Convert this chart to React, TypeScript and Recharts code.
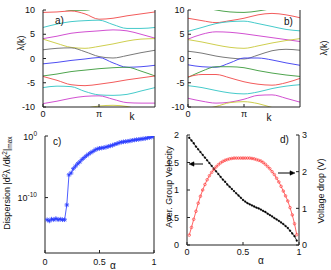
import { Line, LineChart, XAxis, YAxis } from 'recharts';

const FONT = '"Liberation Sans", Arial, Helvetica, sans-serif';

// k grid for panels a) and b), in units of pi
const K = [0, 0.25, 0.5, 0.75, 1, 1.25, 1.5, 1.75, 2];

// panel a) eigenvalue bands lambda(k)
const A_GREEN_TOP = [null, 10.6, 9.92, 9.95, 10.6, null, null, null, null];
const A_RED_TOP = [9.5, 9.6, 9.8, 9.2, 8.1, 8.3, 8.8, 9.2, 9.6];
const A_CYAN_TOP = [6.4, 7.1, 7.6, 7.8, 7.9, 7.0, 6.2, 6.2, 6.4];
const A_MAG_TOP = [4.1, 4.6, 5.2, 5.5, 5.7, 5.9, 5.7, 5.0, 4.2];
const A_YEL_TOP = [4.0, 3.1, 2.3, 2.1, 2.5, 3.0, 3.6, 4.0, 4.1];
const A_GRAY = [1.8, 2.1, 2.2, 1.4, 0.4, 0.1, 0.6, 1.2, 1.7];
const A_BLUE = [-1.1, -0.8, -0.4, -0.1, 0.2, -0.9, -1.8, -1.7, -1.4];
const A_GREEN = [-3.6, -3.2, -2.7, -2.4, -2.1, -1.9, -1.8, -2.6, -3.6];
const A_RED = [-3.7, -4.5, -5.4, -5.6, -5.3, -4.9, -4.4, -4.0, -3.6];
const A_CYAN = [-6.0, -5.7, -5.8, -6.8, -7.5, -7.6, -7.4, -6.7, -6.0];
const A_MAG = [-9.3, -8.8, -8.2, -7.8, -7.7, -8.4, -9.1, -9.2, -9.2];
const A_YEL = [null, null, -11, -10.3, -9.8, -9.65, -9.9, -10.6, null];

// panel b) eigenvalue bands lambda(k)
const B_GREEN_TOP = [null, 10.6, 10.0, 9.6, 9.5, 9.8, 10.3, null, null];
const B_RED_TOP = [8.3, 7.8, 7.4, 7.8, 8.3, 9.0, 9.3, 9.0, 8.4];
const B_CYAN_TOP = [5.6, 6.4, 7.2, 7.6, 7.7, 7.2, 6.6, 6.0, 5.7];
const B_MAG_TOP = [4.0, 5.0, 5.5, 5.4, 5.1, 4.7, 4.3, 3.9, 3.5];
const B_YEL_TOP = [3.9, 3.4, 2.8, 2.3, 2.1, 2.6, 3.2, 3.7, 4.1];
const B_GRAY = [1.5, 1.1, 0.5, 0.1, -0.1, 0.7, 1.6, 1.9, 1.7];
const B_BLUE = [-1.3, -1.7, -1.8, -0.9, 0.1, 0.1, -0.3, -0.9, -1.4];
const B_GREEN = [-3.9, -2.6, -1.7, -1.7, -1.9, -2.5, -3.0, -3.4, -3.7];
const B_RED = [-3.8, -3.3, -3.3, -4.0, -4.8, -5.3, -5.5, -5.0, -4.1];
const B_CYAN = [-5.6, -6.0, -6.6, -7.1, -7.3, -6.9, -6.2, -5.7, -5.4];
const B_MAG = [-8.2, -8.8, -9.2, -9.0, -8.4, -7.6, -7.5, -8.2, -9.0];
const B_YEL = [null, -10.6, -9.9, -9.1, -8.9, -9.3, -10.1, -10.8, null];

// panel c) dispersion, stored as log10 of |d2 lambda/dk2|max
const C_ALPHA = [
  0.02, 0.04, 0.06, 0.08, 0.1, 0.12, 0.14, 0.16, 0.18, 0.2, 0.22, 0.24, 0.26,
  0.28, 0.3, 0.32, 0.34, 0.36, 0.38, 0.4, 0.42, 0.44, 0.46, 0.48, 0.5, 0.52,
  0.54, 0.56, 0.58, 0.6, 0.62, 0.64, 0.66, 0.68, 0.7, 0.72, 0.74, 0.76, 0.78,
  0.8, 0.82, 0.84, 0.86, 0.88, 0.9, 0.92, 0.94, 0.96, 0.98, 1.0,
];
const C_LOG_DISP = [
  -13.6, -13.8, -13.5, -13.6, -13.4, -13.6, -13.5, -13.6, -13.6, -11.2, -6.3,
  -6.0, -5.3, -4.9, -4.5, -4.2, -3.8, -3.5, -3.2, -2.95, -2.7, -2.5, -2.25,
  -2.1, -2.0, -1.95, -1.9, -1.8, -1.7, -1.6, -1.5, -1.35, -1.25, -1.1, -1.0,
  -0.95, -0.9, -0.85, -0.8, -0.7, -0.65, -0.6, -0.55, -0.5, -0.45, -0.4, -0.3,
  -0.25, -0.15, -0.05,
];

// panel d) group velocity (left axis) and voltage drop (right axis)
const D_ALPHA = [
  0.02, 0.04, 0.06, 0.08, 0.1, 0.12, 0.14, 0.16, 0.18, 0.2, 0.22, 0.24, 0.26,
  0.28, 0.3, 0.32, 0.34, 0.36, 0.38, 0.4, 0.42, 0.44, 0.46, 0.48, 0.5, 0.52,
  0.54, 0.56, 0.58, 0.6, 0.62, 0.64, 0.66, 0.68, 0.7, 0.72, 0.74, 0.76, 0.78,
  0.8, 0.82, 0.84, 0.86, 0.88, 0.9, 0.92, 0.94, 0.96, 0.98,
];
const D_VELOCITY = [
  1.95, 1.9, 1.85, 1.79, 1.74, 1.69, 1.64, 1.59, 1.54, 1.49, 1.44, 1.39, 1.34,
  1.29, 1.24, 1.19, 1.15, 1.1, 1.06, 1.02, 0.98, 0.94, 0.9, 0.86, 0.82, 0.79,
  0.76, 0.74, 0.72, 0.7, 0.68, 0.665, 0.645, 0.62, 0.6, 0.57, 0.545, 0.52, 0.49,
  0.465, 0.44, 0.41, 0.38, 0.345, 0.31, 0.26, 0.21, 0.16, 0.08,
];
const D_VOLTAGE = [
  0.27, 0.48, 0.7, 0.92, 1.14, 1.33, 1.5, 1.65, 1.78, 1.89, 1.98, 2.06, 2.13,
  2.19, 2.24, 2.28, 2.31, 2.33, 2.35, 2.36, 2.37, 2.37, 2.37, 2.37, 2.37, 2.37,
  2.37, 2.37, 2.36, 2.35, 2.33, 2.31, 2.29, 2.25, 2.2, 2.14, 2.08, 2.0, 1.92,
  1.82, 1.72, 1.6, 1.47, 1.34, 1.2, 1.02, 0.82, 0.58, 0.28,
];

const COL = {
  r: '#f04848',
  c: '#30c4c4',
  m: '#cc3ccc',
  y: '#c8c83a',
  k: '#6a6a6a',
  b: '#3a3af0',
  g: '#3a9a3a',
};

type Band = [string, (number | null)[], string];

const A_SERIES: Band[] = [
  ['g1', A_GREEN_TOP, COL.g],
  ['r1', A_RED_TOP, COL.r],
  ['c1', A_CYAN_TOP, COL.c],
  ['m1', A_MAG_TOP, COL.m],
  ['y1', A_YEL_TOP, COL.y],
  ['k1', A_GRAY, COL.k],
  ['b1', A_BLUE, COL.b],
  ['g2', A_GREEN, COL.g],
  ['r2', A_RED, COL.r],
  ['c2', A_CYAN, COL.c],
  ['m2', A_MAG, COL.m],
  ['y2', A_YEL, COL.y],
];

const B_SERIES: Band[] = [
  ['g1', B_GREEN_TOP, COL.g],
  ['r1', B_RED_TOP, COL.r],
  ['c1', B_CYAN_TOP, COL.c],
  ['m1', B_MAG_TOP, COL.m],
  ['y1', B_YEL_TOP, COL.y],
  ['k1', B_GRAY, COL.k],
  ['b1', B_BLUE, COL.b],
  ['g2', B_GREEN, COL.g],
  ['r2', B_RED, COL.r],
  ['c2', B_CYAN, COL.c],
  ['m2', B_MAG, COL.m],
  ['y2', B_YEL, COL.y],
];

function bandRows(series: Band[]) {
  return K.map((k, i) => {
    const row: Record<string, number | null> = { k };
    for (const [key, vals] of series) row[key] = vals[i];
    return row;
  });
}

const cRows = C_ALPHA.map((a, i) => ({ a, v: Math.pow(10, C_LOG_DISP[i]) }));
const dRows = D_ALPHA.map((a, i) => ({ a, vel: D_VELOCITY[i], volt: D_VOLTAGE[i] }));

const AX = { stroke: '#222', strokeWidth: 1 };
const TICK = { fontSize: 9, fill: '#111', fontFamily: FONT };
const kFmt = (v: number) => (v === 0 ? '0' : v === 1 ? 'π' : '');

function BandChart({ series, left, yAxisWidth, rightWidth, tickMargin }: {
  series: Band[];
  left: number;
  yAxisWidth: number;
  rightWidth: number;
  tickMargin: number;
}) {
  const rows = bandRows(series);
  return (
    <div style={{ position: 'absolute', left, top: 0 }}>
      <LineChart
        width={yAxisWidth + 112 + rightWidth}
        height={125}
        data={rows}
        margin={{ top: 10, right: 0, bottom: 0, left: 0 }}
      >
        <XAxis
          dataKey="k"
          type="number"
          domain={[0, 2]}
          ticks={[0, 1]}
          tickFormatter={kFmt}
          allowDataOverflow
          height={18}
          tickSize={-3}
          tickMargin={7}
          axisLine={AX}
          tickLine={AX}
          tick={TICK}
        />
        <XAxis
          xAxisId="top"
          orientation="top"
          type="number"
          domain={[0, 2]}
          ticks={[0, 1]}
          allowDataOverflow
          height={0}
          tickSize={-3}
          tick={false}
          axisLine={AX}
          tickLine={AX}
        />
        <YAxis
          type="number"
          domain={[-10, 10]}
          ticks={[-10, -5, 0, 5, 10]}
          allowDataOverflow
          width={yAxisWidth}
          tickSize={-3}
          tickMargin={tickMargin}
          axisLine={AX}
          tickLine={AX}
          tick={TICK}
        />
        <YAxis
          yAxisId="box"
          orientation="right"
          type="number"
          domain={[-10, 10]}
          ticks={[-10, -5, 0, 5, 10]}
          allowDataOverflow
          width={rightWidth}
          tickSize={-3}
          tick={false}
          axisLine={AX}
          tickLine={AX}
        />
        {series.map(([key, , color]) => (
          <Line
            key={key}
            dataKey={key}
            type="monotone"
            stroke={color}
            strokeWidth={0.9}
            dot={false}
            isAnimationActive={false}
          />
        ))}
      </LineChart>
    </div>
  );
}

function PowTick(p: any) {
  const e = Math.round(Math.log10(p.payload.value));
  return (
    <text x={p.x} y={p.y} dy={3} textAnchor="end" fontSize={9} fill="#111" fontFamily={FONT}>
      10
      <tspan dy={-4} fontSize={6.5}>
        {e}
      </tspan>
    </text>
  );
}

function StarDot(p: any) {
  const { cx, cy, index } = p;
  if (cx == null || cy == null) return <g key={`s${index}`} />;
  const r = 2.3;
  const d = r * 0.7;
  return (
    <path
      key={`s${index}`}
      d={`M${cx - r},${cy}H${cx + r}M${cx},${cy - r}V${cy + r}M${cx - d},${cy - d}L${cx + d},${cy + d}M${cx - d},${cy + d}L${cx + d},${cy - d}`}
      stroke="#2a3cff"
      strokeWidth={0.8}
      fill="none"
    />
  );
}

function DispersionChart() {
  return (
    <div style={{ position: 'absolute', left: 0, top: 128 }}>
      <LineChart width={165} height={142} data={cRows} margin={{ top: 8, right: 0, bottom: 0, left: 0 }}>
        <XAxis
          dataKey="a"
          type="number"
          domain={[0, 1]}
          ticks={[0, 0.5, 1]}
          allowDataOverflow
          height={17}
          tickSize={-3}
          tickMargin={9}
          axisLine={AX}
          tickLine={AX}
          tick={TICK}
        />
        <XAxis
          xAxisId="top"
          orientation="top"
          type="number"
          domain={[0, 1]}
          ticks={[0, 0.5, 1]}
          allowDataOverflow
          height={0}
          tickSize={-3}
          tick={false}
          axisLine={AX}
          tickLine={AX}
        />
        <YAxis
          type="number"
          scale="log"
          domain={[1e-19, 1]}
          ticks={[1e-10, 1]}
          allowDataOverflow
          width={45}
          tickSize={-3}
          tickMargin={11}
          axisLine={AX}
          tickLine={AX}
          tick={<PowTick />}
        />
        <YAxis
          yAxisId="box"
          orientation="right"
          type="number"
          scale="log"
          domain={[1e-19, 1]}
          ticks={[1e-10, 1]}
          allowDataOverflow
          width={11}
          tickSize={-3}
          tick={false}
          axisLine={AX}
          tickLine={AX}
        />
        <Line
          dataKey="v"
          type="linear"
          stroke="#3a4cff"
          strokeWidth={0.9}
          dot={StarDot}
          isAnimationActive={false}
        />
      </LineChart>
    </div>
  );
}

function VelocityChart() {
  return (
    <div style={{ position: 'absolute', left: 160, top: 128 }}>
      <LineChart width={171} height={142} data={dRows} margin={{ top: 7, right: 0, bottom: 0, left: 0 }}>
        <XAxis
          dataKey="a"
          type="number"
          domain={[0, 1]}
          ticks={[0, 0.5, 1]}
          allowDataOverflow
          height={25}
          tickSize={-3}
          tickMargin={7}
          axisLine={AX}
          tickLine={AX}
          tick={TICK}
        />
        <XAxis
          xAxisId="top"
          orientation="top"
          type="number"
          domain={[0, 1]}
          ticks={[0, 0.5, 1]}
          allowDataOverflow
          height={0}
          tickSize={-3}
          tick={false}
          axisLine={AX}
          tickLine={AX}
        />
        <YAxis
          yAxisId="left"
          type="number"
          domain={[0, 2]}
          ticks={[0, 0.5, 1, 1.5, 2]}
          allowDataOverflow
          width={27}
          tickSize={-3}
          tickMargin={11}
          axisLine={AX}
          tickLine={AX}
          tick={TICK}
        />
        <YAxis
          yAxisId="right"
          orientation="right"
          type="number"
          domain={[0, 3]}
          ticks={[0, 1, 2, 3]}
          allowDataOverflow
          width={32}
          tickSize={-3}
          tickMargin={6}
          axisLine={AX}
          tickLine={AX}
          tick={TICK}
        />
        <Line
          yAxisId="left"
          dataKey="vel"
          type="linear"
          stroke="#000"
          strokeWidth={0.8}
          dot={{ r: 0.9, fill: '#000', stroke: '#000', strokeWidth: 0.4 }}
          isAnimationActive={false}
        />
        <Line
          yAxisId="right"
          dataKey="volt"
          type="linear"
          stroke="#ff4040"
          strokeWidth={0.8}
          dot={{ r: 1.3, fill: 'none', stroke: '#ff4040', strokeWidth: 0.7 }}
          isAnimationActive={false}
        />
      </LineChart>
    </div>
  );
}

function Labels() {
  const sup = { fontSize: 6.5 };
  return (
    <svg
      width={331}
      height={270}
      style={{ position: 'absolute', left: 0, top: 0, pointerEvents: 'none' }}
    >
      <g fontFamily={FONT} fontSize={9} fill="#111" style={{ whiteSpace: 'pre' }}>
        <text x={55} y={24} fontSize={10}>a)</text>
        <text x={284} y={25} fontSize={10}>b)</text>
        <text x={53} y={145} fontSize={10}>c)</text>
        <text x={280} y={143} fontSize={10}>d)</text>
        <text x={132} y={120} fontSize={10} textAnchor="middle">k</text>
        <text x={269} y={121} fontSize={10} textAnchor="middle">k</text>
        <text transform="translate(24,43) rotate(-90)" textAnchor="middle">λ(k)</text>
        <text transform="translate(327,48) rotate(-90)" textAnchor="middle">λ(k)</text>
        <text transform="translate(10,183) rotate(-90)" textAnchor="middle">
          Dispersion  |d
          <tspan dy={-3} {...sup}>2</tspan>
          <tspan dy={3}>λ /dk</tspan>
          <tspan dy={-3} {...sup}>2</tspan>
          <tspan dy={3}>|</tspan>
          <tspan dy={2} {...sup}>max</tspan>
        </text>
        <text x={113} y={269} fontSize={10} textAnchor="middle">α</text>
        <text transform="translate(172,187) rotate(-90)" textAnchor="middle">Aver. Group Velocity</text>
        <text transform="translate(324,191) rotate(-90)" textAnchor="middle">Voltage drop  (V)</text>
        <text x={261} y={264} fontSize={10} textAnchor="middle">α</text>
      </g>
      {/* arrows pointing to the left / right axes */}
      <g stroke="#000" strokeWidth={1} fill="#000">
        <line x1={203} y1={164} x2={192} y2={164} />
        <path d="M189,164 L194,161.8 L194,166.2 Z" strokeWidth={0.5} />
        <line x1={278} y1={173} x2={291} y2={173} />
        <path d="M295,173 L290,170.8 L290,175.2 Z" strokeWidth={0.5} />
      </g>
    </svg>
  );
}

export default function App() {
  return (
    <div
      style={{
        position: 'absolute',
        left: 0,
        top: 0,
        width: 331,
        height: 270,
        background: '#fff',
        fontFamily: FONT,
      }}
    >
      <BandChart series={A_SERIES} left={0} yAxisWidth={43} rightWidth={10} tickMargin={11} />
      <BandChart series={B_SERIES} left={160} yAxisWidth={28} rightWidth={31} tickMargin={6.5} />
      <DispersionChart />
      <VelocityChart />
      <Labels />
    </div>
  );
}
